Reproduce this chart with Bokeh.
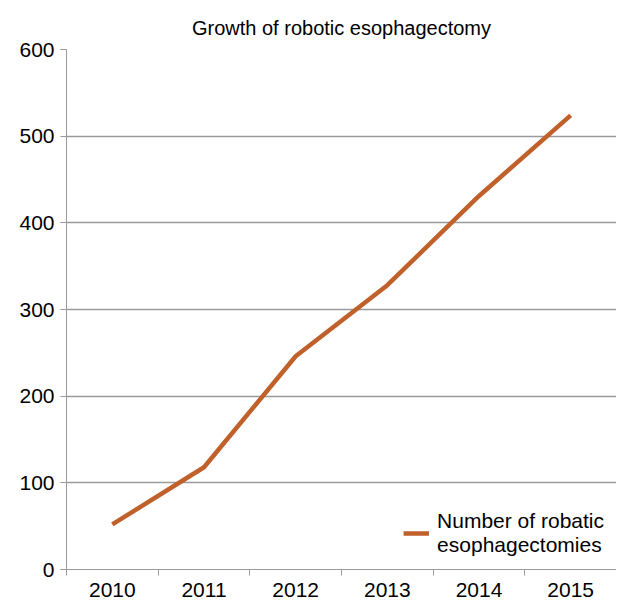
from bokeh.plotting import figure
from bokeh.models import FixedTicker, Range1d, Legend, LegendItem
from bokeh.embed import file_html
from bokeh.resources import INLINE

years = ["2010", "2011", "2012", "2013", "2014", "2015"]
counts = [52, 118, 246, 328, 431, 524]
y_ticks = [0, 100, 200, 300, 400, 500, 600]

xs = [i + 0.5 for i in range(len(years))]

p = figure(width=616, height=600, output_backend="svg", toolbar_location=None,
           x_range=Range1d(0, len(years)), y_range=Range1d(0, 600),
           min_border_left=66, min_border_right=0, min_border_top=49, min_border_bottom=31)
p.title.text = "Growth of robotic esophagectomy"
p.title.align = "center"
p.title.text_font = "Liberation Sans"
p.title.text_font_size = "20px"
p.title.text_font_style = "normal"
p.title.text_color = "black"
p.title.offset = 0
p.title.standoff = 22

p.outline_line_color = None
p.background_fill_color = "white"

# x axis: labels at centers, ticks between categories
p.xaxis.ticker = FixedTicker(ticks=xs, minor_ticks=list(range(len(years) + 1)))
p.xaxis.major_label_overrides = {x: y for x, y in zip(xs, years)}
p.xaxis.major_tick_out = 0
p.xaxis.major_tick_in = 0
p.xaxis.minor_tick_out = 6
p.xaxis.minor_tick_in = 0
p.xaxis.minor_tick_line_color = "#9a9a9a"
p.xaxis.axis_line_color = "#9a9a9a"
p.xaxis.major_label_text_font = "Liberation Sans"
p.xaxis.major_label_text_font_size = "21px"
p.xaxis.major_label_text_color = "black"
p.xaxis.major_label_standoff = 7

p.yaxis.ticker = FixedTicker(ticks=y_ticks, minor_ticks=[])
p.yaxis.major_tick_out = 6
p.yaxis.major_tick_in = 0
p.yaxis.major_tick_line_color = "#9a9a9a"
p.yaxis.axis_line_color = "#9a9a9a"
p.yaxis.major_label_text_font = "Liberation Sans"
p.yaxis.major_label_text_font_size = "21px"
p.yaxis.major_label_text_color = "black"
p.yaxis.major_label_standoff = 6

p.xgrid.grid_line_color = None
p.ygrid.ticker = FixedTicker(ticks=y_ticks)
p.ygrid.grid_line_color = "#9a9a9a"
p.ygrid.grid_line_width = 1.3

r = p.line(xs, counts, line_color="#C0612B", line_width=4.5)

legend = Legend(items=[LegendItem(label="Number of robatic\nesophagectomies", renderers=[r])],
                location="bottom_right")
legend.border_line_color = None
legend.background_fill_alpha = 0
legend.label_text_font = "Liberation Sans"
legend.label_text_font_size = "21px"
legend.label_text_color = "black"
legend.glyph_width = 26
legend.label_standoff = 8
legend.margin = 12
legend.padding = 2
p.add_layout(legend)

open("out.html", "w").write(file_html(p, INLINE))
